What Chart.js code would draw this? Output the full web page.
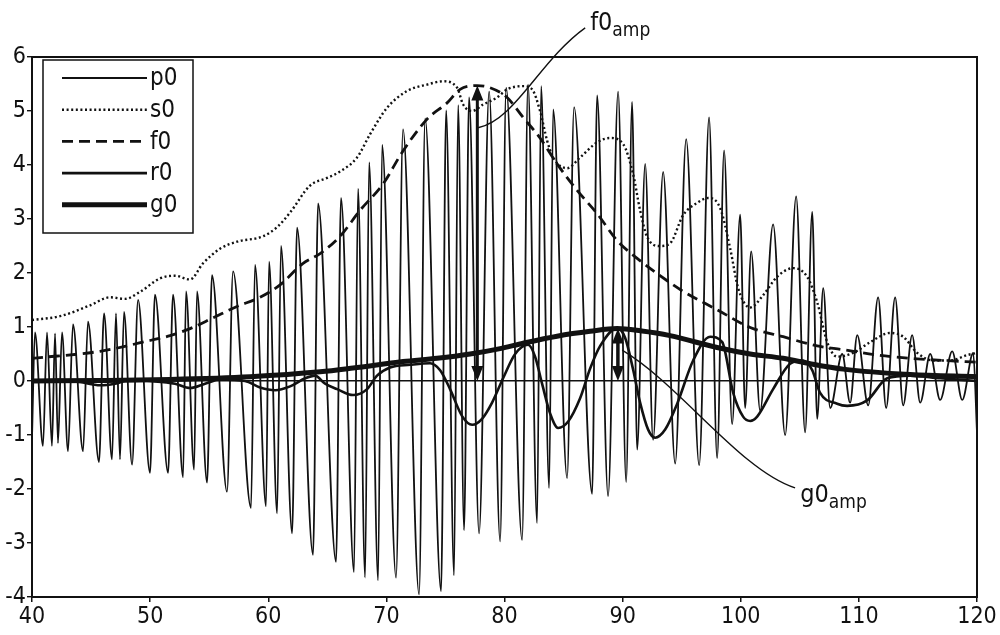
<!DOCTYPE html>
<html>
<head>
<meta charset="utf-8">
<script src="https://cdn.jsdelivr.net/npm/chart.js@4.4.1/dist/chart.umd.min.js"></script>
<style>
  html, body { margin: 0; padding: 0; background: #fff; }
  canvas { display: block; }
</style>
</head>
<body>
<canvas id="chart" width="1000" height="635"></canvas>
<script>
const FONT = '"Liberation Sans Narrow", "Arial Narrow", "DejaVu Sans Condensed", sans-serif';

// axes
const xMin = 40, xMax = 120, xStep = 10;
const yMin = -4, yMax = 6, yStep = 1;

// p0 - the raw oscillation (peaks and troughs)
const p0X = [40.0, 40.25, 40.93, 41.27, 41.69, 41.95, 42.20, 42.54, 43.05, 43.47, 44.32, 44.74, 45.67, 46.10,
  46.77, 47.11, 47.45, 47.79, 48.47, 48.98, 49.99, 50.41, 51.52, 51.94, 52.79, 53.04, 53.72, 53.97, 54.82, 55.24,
  56.51, 57.02, 58.54, 58.88, 59.81, 60.07, 60.75, 61.08, 62.02, 62.44, 63.79, 64.22, 65.74, 66.16, 67.26, 67.60,
  68.20, 68.54, 69.30, 69.64, 70.82, 71.41, 72.77, 73.28, 74.63, 75.06, 75.73, 76.07, 76.58, 77.00, 77.85, 78.70,
  79.63, 80.14, 81.49, 81.99, 82.76, 83.10, 83.78, 84.12, 85.30, 85.89, 87.42, 87.84, 88.77, 89.62, 90.30, 90.80,
  91.23, 91.91, 92.58, 93.43, 94.45, 95.38, 96.48, 97.32, 98.00, 98.59, 99.27, 99.95, 100.37, 100.88, 101.64,
  102.74, 103.76, 104.69, 105.45, 106.05, 106.47, 106.98, 107.57, 108.59, 109.26, 109.86, 110.79, 111.63, 112.31,
  113.07, 113.75, 114.51, 115.19, 116.04, 116.88, 117.90, 118.75, 119.68, 120.0];
const p0Y = [-1.05, 0.9, -1.2, 0.9, -1.2, 0.88, -1.15, 0.9, -1.3, 1.05, -1.3, 1.1, -1.5, 1.25,
  -1.45, 1.25, -1.45, 1.28, -1.55, 1.5, -1.7, 1.6, -1.7, 1.6, -1.78, 1.66, -1.64, 1.66, -1.88, 1.96,
  -2.05, 2.03, -2.35, 2.15, -2.32, 2.21, -2.45, 2.5, -2.82, 2.84, -3.22, 3.29, -3.35, 3.39, -3.54, 3.56,
  -3.64, 4.05, -3.69, 4.37, -3.64, 4.66, -3.95, 4.86, -3.89, 5.01, -3.6, 5.11, -2.76, 5.25, -2.82, 5.36,
  -2.97, 5.43, -2.94, 5.49, -2.63, 5.46, -1.98, 5.03, -1.8, 5.07, -2.09, 5.29, -2.13, 5.36, -1.87, 5.17,
  -1.27, 4.02, -1.09, 3.87, -1.53, 4.48, -1.56, 4.88, -1.43, 4.27, -0.8, 3.08, -0.5, 2.4, -0.55,
  2.9, -1.0, 3.42, -0.95, 3.13, -0.7, 1.72, -0.5, 0.5, -0.4, 0.85, -0.45, 1.55, -0.5,
  1.55, -0.45, 0.85, -0.4, 0.5, -0.35, 0.55, -0.35, 0.52, -0.95];

// s0 - dotted envelope
const s0X = [40.0, 42.37, 44.91, 46.6, 47.87, 49.14, 50.84, 52.11, 53.38, 54.48, 55.92, 57.36, 59.56, 60.75,
  61.85, 63.54, 64.98, 66.08, 67.52, 68.62, 70.06, 71.75, 73.45, 74.8, 75.99, 76.5, 77.26, 78.19, 79.37, 80.22,
  81.58, 82.34, 83.01, 83.61, 84.12, 85.3, 86.4, 87.84, 88.94, 90.04, 90.89, 91.48, 92.07, 93.18, 94.02, 95.12,
  96.31, 97.24, 98.26, 99.1, 99.78, 100.8, 101.9, 103.08, 104.44, 105.62, 106.47, 107.32, 108.16, 109.52,
  110.96, 112.65, 113.75, 114.94, 116.29, 117.73, 119.17, 120.0];
const s0Y = [1.13, 1.2, 1.4, 1.55, 1.52, 1.65, 1.9, 1.95, 1.88, 2.18, 2.45, 2.58, 2.68, 2.85,
  3.12, 3.62, 3.76, 3.88, 4.14, 4.57, 5.06, 5.37, 5.49, 5.55, 5.43, 5.12, 5.0, 5.12, 5.25, 5.4,
  5.46, 5.4, 5.0, 4.45, 4.14, 3.94, 4.14, 4.42, 4.5, 4.39, 3.83, 3.16, 2.67, 2.5, 2.55, 3.07,
  3.3, 3.39, 3.2, 2.46, 1.72, 1.36, 1.59, 1.93, 2.09, 1.93, 1.46, 0.72, 0.45, 0.52,
  0.72, 0.89, 0.82, 0.52, 0.38, 0.38, 0.48, 0.52];

// f0 - dashed bell
const f0X = [40.0, 45.76, 49.99, 51.69, 53.38, 55.33, 57.36, 59.31, 61.0, 62.95, 64.39, 66.08, 67.77, 69.72,
  71.41, 73.45, 75.14, 76.24, 77.68, 78.78, 80.22, 81.58, 83.01, 84.45, 86.15, 87.84, 89.54, 91.23, 92.92,
  95.12, 98.0, 100.8, 103.59, 106.47, 108.67, 111.55, 114.34, 117.14, 120.0];
const f0Y = [0.42, 0.55, 0.75, 0.84, 0.97, 1.17, 1.38, 1.55, 1.78, 2.18, 2.36, 2.68, 3.16, 3.65,
  4.26, 4.85, 5.15, 5.4, 5.47, 5.43, 5.25, 4.88, 4.5, 4.02, 3.53, 3.1, 2.6, 2.27, 1.99,
  1.66, 1.32, 0.99, 0.82, 0.65, 0.58, 0.48, 0.42, 0.38, 0.35];

// r0 - medium solid wave
const r0X = [40.0, 42.37, 44.06, 45.76, 47.03, 48.3, 49.99, 52.11, 53.38, 54.65, 55.92, 58.04, 59.31, 60.58,
  61.85, 63.12, 63.96, 64.81, 65.83, 67.18, 68.37, 69.21, 70.31, 72.01, 73.7, 74.55, 75.39, 76.41, 77.26,
  78.1, 78.95, 79.88, 80.9, 82.0, 82.59, 83.18, 83.86, 84.54, 85.39, 86.4, 87.25, 88.1, 89.54, 90.21, 90.89,
  91.48, 92.16, 92.75, 93.6, 94.62, 95.97, 97.41, 98.43, 99.36, 100.2, 100.8, 101.39, 102.74, 104.18, 105.28,
  106.05, 106.72, 108.16, 109.01, 110.7, 112.4, 114.34, 116.88, 120.0];
const r0Y = [0.0, 0.02, -0.02, -0.08, -0.05, 0.02, 0.0, -0.05, -0.13, -0.05, 0.03, 0.0, -0.12, -0.17,
  -0.1, 0.05, 0.1, -0.05, -0.15, -0.26, -0.15, 0.1, 0.25, 0.3, 0.33, 0.2, -0.15, -0.65, -0.81,
  -0.7, -0.4, 0.05, 0.5, 0.67, 0.45, -0.05, -0.6, -0.87, -0.75, -0.32, 0.23, 0.65, 0.98, 0.8, 0.21,
  -0.4, -0.9, -1.05, -0.9, -0.42, 0.38, 0.82, 0.72, -0.22, -0.66, -0.74, -0.66, -0.15, 0.32, 0.38,
  0.2, -0.22, -0.42, -0.46, -0.36, 0.05, 0.1, 0.05, 0.0];

// g0 - thick smooth bell
const g0X = [40.0, 45.76, 51.69, 58.46, 64.39, 67.18, 71.41, 74.29, 77.09, 79.63, 81.58, 84.45, 87.25, 89.54,
  91.48, 94.02, 98.0, 100.8, 103.59, 105.88, 108.67, 114.34, 120.0];
const g0Y = [0.0, 0.01, 0.03, 0.08, 0.17, 0.24, 0.36, 0.42, 0.5, 0.6, 0.7, 0.83, 0.92, 0.97,
  0.93, 0.84, 0.62, 0.5, 0.42, 0.32, 0.22, 0.12, 0.08];

const seriesNames = ["p0", "s0", "f0", "r0", "g0"];

// where the amplitude arrows sit (x in data units)
const f0AmpX = 77.7;
const g0AmpX = 89.6;

function pts(xs, ys) { return xs.map((x, i) => ({ x: x, y: ys[i] })); }

const styles = [
    { borderWidth: 1.8, borderDash: [] },
    { borderWidth: 2.4, borderDash: [2, 2.6] },
    { borderWidth: 2.8, borderDash: [11, 6] },
    { borderWidth: 2.6, borderDash: [] },
    { borderWidth: 5, borderDash: [] }
];
const seriesData = [pts(p0X, p0Y), pts(s0X, s0Y), pts(f0X, f0Y), pts(r0X, r0Y), pts(g0X, g0Y)];

const datasets = seriesNames.map((name, i) => ({
    label: name,
    data: seriesData[i],
    borderColor: "#111",
    borderWidth: styles[i].borderWidth,
    borderDash: styles[i].borderDash,
    pointRadius: 0,
    fill: false,
    cubicInterpolationMode: "monotone",
    order: i === 0 ? 5 : 5 - i
}));

/* ========== FRAME, ARROWS, LABELS, LEGEND ========== */
function arrowHead(ctx, x, y, dir) {
    ctx.beginPath();
    ctx.moveTo(x, y);
    ctx.lineTo(x - 6, y - dir * 15);
    ctx.lineTo(x + 6, y - dir * 15);
    ctx.closePath();
    ctx.fill();
}

function doubleArrow(ctx, x, yTop, yBot, w) {
    ctx.lineWidth = w;
    ctx.beginPath();
    ctx.moveTo(x, yTop + 10);
    ctx.lineTo(x, yBot - 10);
    ctx.stroke();
    arrowHead(ctx, x, yTop, -1);
    arrowHead(ctx, x, yBot, 1);
}

function subLabel(ctx, main, sub, x, y) {
    ctx.font = "25px " + FONT;
    ctx.textAlign = "left";
    ctx.textBaseline = "alphabetic";
    ctx.fillText(main, x, y);
    const w = ctx.measureText(main).width;
    ctx.font = "19px " + FONT;
    ctx.fillText(sub, x + w, y + 6);
}

const decor = {
    id: "decor",
    afterDatasetsDraw(chart) {
        const { ctx, chartArea: a, scales } = chart;
        const X = v => scales.x.getPixelForValue(v);
        const Y = v => scales.y.getPixelForValue(v);
        ctx.save();
        ctx.strokeStyle = "#111";
        ctx.fillStyle = "#111";
        ctx.setLineDash([]);

        // frame
        ctx.lineWidth = 2;
        ctx.strokeRect(a.left, a.top, a.right - a.left, a.bottom - a.top);

        // f0 amplitude
        doubleArrow(ctx, X(f0AmpX), Y(Math.max(...f0Y)), Y(0), 3);
        // g0 amplitude
        doubleArrow(ctx, X(g0AmpX), Y(Math.max(...g0Y)), Y(0), 3.5);

        // leader lines
        ctx.lineWidth = 1.4;
        ctx.beginPath();
        ctx.moveTo(X(77.76), Y(4.69));
        ctx.bezierCurveTo(X(80.9), Y(4.83), X(83.0), Y(5.94), X(86.83), Y(6.54));
        ctx.stroke();
        ctx.beginPath();
        ctx.moveTo(X(89.96), Y(0.57));
        ctx.bezierCurveTo(X(94.87), Y(-0.07), X(99.95), Y(-1.65), X(104.6), Y(-1.98));
        ctx.stroke();

        subLabel(ctx, "f0", "amp", X(87.25), Y(6.5));
        subLabel(ctx, "g0", "amp", X(105.03), Y(-2.24));

        // legend
        const lx = a.left + 11, ly = a.top + 3, lw = 150, lh = 173;
        ctx.fillStyle = "#fff";
        ctx.fillRect(lx, ly, lw, lh);
        ctx.lineWidth = 1.5;
        ctx.strokeRect(lx, ly, lw, lh);
        ctx.fillStyle = "#111";
        ctx.font = "24px " + FONT;
        ctx.textAlign = "left";
        ctx.textBaseline = "middle";
        seriesNames.forEach((name, i) => {
            const yy = ly + 18 + i * 31.7;
            ctx.lineWidth = styles[i].borderWidth;
            ctx.setLineDash(styles[i].borderDash);
            ctx.beginPath();
            ctx.moveTo(lx + 19, yy);
            ctx.lineTo(lx + 104, yy);
            ctx.stroke();
            ctx.setLineDash([]);
            ctx.fillText(name, lx + 107, yy + 1);
        });
        ctx.restore();
    }
};

new Chart(document.getElementById("chart"), {
    type: "line",
    data: { datasets },
    options: {
        responsive: false,
        animation: false,
        devicePixelRatio: 1,
        layout: { padding: { top: 57, right: 23, left: 0, bottom: 0 } },
        plugins: { legend: { display: false }, tooltip: { enabled: false } },
        scales: {
            x: {
                type: "linear",
                min: xMin, max: xMax,
                afterFit: s => { s.height = 38; },
                ticks: { stepSize: xStep, color: "#111", font: { family: FONT, size: 23 }, padding: 1, maxRotation: 0 },
                grid: { drawOnChartArea: false, tickColor: "#111", tickLength: 5, lineWidth: 1.5 },
                border: { display: true, color: "#111", width: 2 }
            },
            y: {
                min: yMin, max: yMax,
                afterFit: s => { s.width = 32; },
                ticks: { stepSize: yStep, color: "#111", font: { family: FONT, size: 23 }, padding: 1 },
                grid: {
                    color: c => (c.tick && c.tick.value === 0 ? "#111" : "rgba(0,0,0,0)"),
                    lineWidth: 1.4,
                    tickColor: "#111",
                    tickLength: 5
                },
                border: { display: true, color: "#111", width: 2 }
            }
        }
    },
    plugins: [decor]
});
</script>
</body>
</html>
